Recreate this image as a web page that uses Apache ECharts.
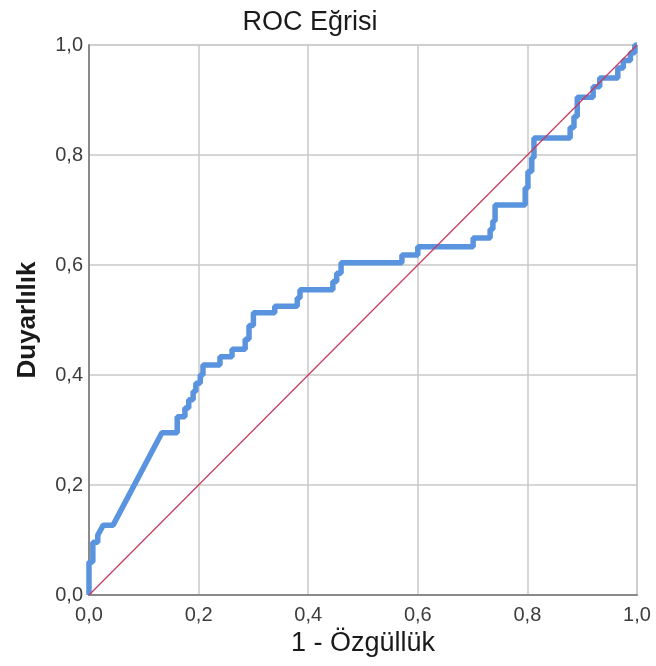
<!DOCTYPE html>
<html>
<head>
<meta charset="utf-8">
<script src="https://cdn.jsdelivr.net/npm/echarts@6/dist/echarts.min.js"></script>
<style>
  html, body { margin: 0; padding: 0; background: #fff; }
  #chart { width: 656px; height: 666px; }
</style>
</head>
<body>
<div id="chart"></div>
<script>
// 1 - specificity (x) and sensitivity (y) of the ROC curve
const rocX = [0, 0, 0.007, 0.007, 0.016, 0.016, 0.026, 0.044, 0.133, 0.161, 0.161, 0.175,
  0.175, 0.182, 0.182, 0.19, 0.19, 0.195, 0.195, 0.203, 0.203, 0.208, 0.208, 0.239,
  0.239, 0.261, 0.261, 0.285, 0.285, 0.292, 0.292, 0.3, 0.3, 0.339, 0.339, 0.38,
  0.38, 0.385, 0.385, 0.445, 0.445, 0.452, 0.452, 0.46, 0.46, 0.571, 0.571, 0.6,
  0.6, 0.701, 0.701, 0.732, 0.732, 0.737, 0.737, 0.741, 0.741, 0.796, 0.796, 0.801,
  0.801, 0.808, 0.808, 0.812, 0.812, 0.827, 0.878, 0.878, 0.885, 0.885, 0.891, 0.891,
  0.9, 0.92, 0.92, 0.932, 0.932, 0.965, 0.965, 0.975, 0.975, 0.988, 0.988, 0.996, 0.996, 1];
const rocY = [0, 0.06, 0.06, 0.096, 0.096, 0.109, 0.127, 0.127, 0.295, 0.295, 0.324, 0.324,
  0.34, 0.34, 0.355, 0.355, 0.37, 0.37, 0.385, 0.385, 0.4, 0.4, 0.418, 0.418,
  0.433, 0.433, 0.447, 0.447, 0.465, 0.465, 0.49, 0.49, 0.513, 0.513, 0.525, 0.525,
  0.54, 0.54, 0.555, 0.555, 0.57, 0.57, 0.585, 0.585, 0.604, 0.604, 0.618, 0.618,
  0.633, 0.633, 0.649, 0.649, 0.665, 0.665, 0.68, 0.68, 0.709, 0.709, 0.74, 0.74,
  0.77, 0.77, 0.795, 0.795, 0.831, 0.831, 0.831, 0.85, 0.85, 0.87, 0.87, 0.905,
  0.905, 0.905, 0.924, 0.924, 0.94, 0.94, 0.958, 0.958, 0.972, 0.972, 0.986, 0.986, 1, 1];
const refX = [0, 1];
const refY = [0, 1];
const tickStep = 0.2;

const fmt = v => v.toFixed(1).replace(".", ",");

const chart = echarts.init(document.getElementById("chart"));

chart.setOption({
  animation: false,
  backgroundColor: "#fff",
  title: {
    text: "ROC Eğrisi",
    left: 310,
    top: 9,
    padding: 0,
    textAlign: "center",
    textStyle: {
      fontFamily: "Liberation Sans",
      fontSize: 27,
      fontWeight: "normal",
      color: "#1a1a1a",
    },
  },
  grid: {
    left: 89,
    right: 19,
    top: 45,
    bottom: 71,
    show: true,
    borderColor: "#c4c4c4",
    borderWidth: 1,
  },
  xAxis: {
    type: "value",
    min: 0,
    max: 1,
    interval: tickStep,
    name: "1 - Özgüllük",
    nameLocation: "middle",
    nameGap: 33,
    nameTextStyle: { fontFamily: "Liberation Sans", fontSize: 27, color: "#1a1a1a" },
    axisLine: { show: true, lineStyle: { color: "#8a8a8a", width: 2 } },
    axisTick: { show: false },
    axisLabel: {
      formatter: fmt,
      fontFamily: "Liberation Sans",
      fontSize: 20,
      color: "#3c3c3c",
      margin: 10,
    },
    splitLine: { show: true, lineStyle: { color: "#c8c8c8", width: 1.5 } },
  },
  yAxis: {
    type: "value",
    min: 0,
    max: 1,
    interval: tickStep,
    name: "Duyarlılık",
    nameLocation: "middle",
    nameGap: 48,
    nameTextStyle: { fontFamily: "Liberation Sans", fontSize: 26, fontWeight: "bold", color: "#1a1a1a" },
    axisLine: { show: true, lineStyle: { color: "#8a8a8a", width: 2 } },
    axisTick: { show: false },
    axisLabel: {
      formatter: fmt,
      fontFamily: "Liberation Sans",
      fontSize: 20,
      color: "#3c3c3c",
      margin: 6,
    },
    splitLine: { show: true, lineStyle: { color: "#c8c8c8", width: 1.5 } },
  },
  series: [
    {
      type: "line",
      data: refX.map((x, i) => [x, refY[i]]),
      showSymbol: false,
      lineStyle: { color: "#c8385c", width: 1.2 },
      z: 3,
    },
    {
      type: "line",
      data: rocX.map((x, i) => [x, rocY[i]]),
      showSymbol: false,
      lineStyle: { color: "#5a94de", width: 5.5 },
      z: 2,
    },
  ],
});
</script>
</body>
</html>
